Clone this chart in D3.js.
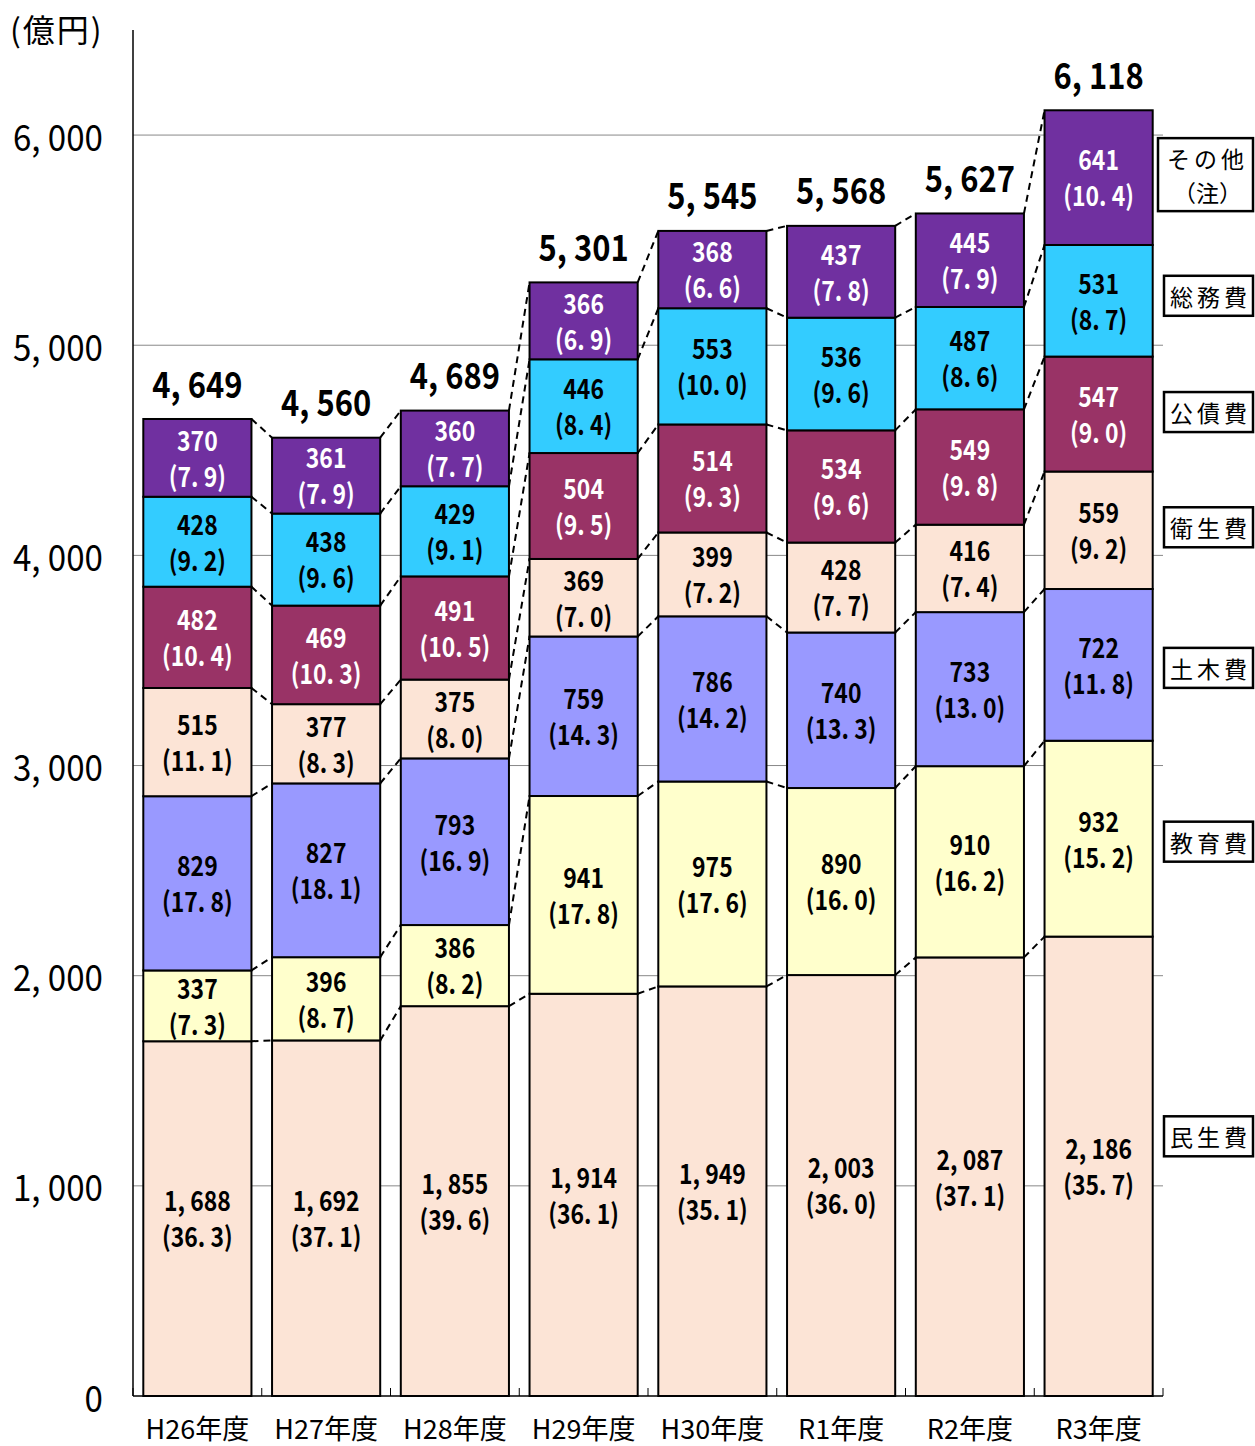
<!DOCTYPE html>
<html><head><meta charset="utf-8">
<script src="https://cdn.jsdelivr.net/npm/d3@7"></script>
<style>
html,body{margin:0;padding:0;background:#fff;}
svg{display:block;}
text{font-family:"Noto Sans CJK JP","Noto Sans",sans-serif;}
</style></head>
<body>
<svg id="chart" width="1255" height="1446"></svg>
<script>
// ---- data ----
const categories = ["H26年度","H27年度","H28年度","H29年度","H30年度","R1年度","R2年度","R3年度"];
const seriesNames = ["民生費","教育費","土木費","衛生費","公債費","総務費","その他"];
const minsei   = [1688,1692,1855,1914,1949,2003,2087,2186];
const kyouiku  = [337,396,386,941,975,890,910,932];
const doboku   = [829,827,793,759,786,740,733,722];
const eisei    = [515,377,375,369,399,428,416,559];
const kousai   = [482,469,491,504,514,534,549,547];
const soumu    = [428,438,429,446,553,536,487,531];
const sonota   = [370,361,360,366,368,437,445,641];
const minseiPct  = [36.3,37.1,39.6,36.1,35.1,36.0,37.1,35.7];
const kyouikuPct = [7.3,8.7,8.2,17.8,17.6,16.0,16.2,15.2];
const dobokuPct  = [17.8,18.1,16.9,14.3,14.2,13.3,13.0,11.8];
const eiseiPct   = [11.1,8.3,8.0,7.0,7.2,7.7,7.4,9.2];
const kousaiPct  = [10.4,10.3,10.5,9.5,9.3,9.6,9.8,9.0];
const soumuPct   = [9.2,9.6,9.1,8.4,10.0,9.6,8.6,8.7];
const sonotaPct  = [7.9,7.9,7.7,6.9,6.6,7.8,7.9,10.4];
const totals = [4649,4560,4689,5301,5545,5568,5627,6118];
const yTicks = [0,1000,2000,3000,4000,5000,6000];
const legendLabels = ["民生費","教育費","土木費","衛生費","公債費","総務費","その他\n（注）"];

const seriesValues = [minsei,kyouiku,doboku,eisei,kousai,soumu,sonota];
const seriesPcts = [minseiPct,kyouikuPct,dobokuPct,eiseiPct,kousaiPct,soumuPct,sonotaPct];

// ---- styles ----
const colors = ["#FCE4D6","#FFFFCC","#9999FF","#FCE4D6","#993366","#33CCFF","#7030A0"];
const textColors = ["#000","#000","#000","#000","#fff","#000","#fff"];

const svg = d3.select("#chart");
const x = d3.scaleBand().domain(categories).range([133,1163]).paddingInner(0.16).paddingOuter(0.08);
const y = d3.scaleLinear().domain([0,6500]).range([1396,30]);

const fmt = v => d3.format(",")(v).replace(/,/g, ", ");
const fmtPct = v => "(" + v.toFixed(1).replace(".", ". ") + ")";

// gridlines
svg.append("g").selectAll("line").data(yTicks.filter(t=>t>0)).join("line")
  .attr("x1",133).attr("x2",1163).attr("y1",d=>y(d)).attr("y2",d=>y(d))
  .attr("stroke","#888").attr("stroke-width",1);

// stacked data
const rows = categories.map((c,i)=>{ const o={cat:c}; seriesNames.forEach((s,k)=>o[s]=seriesValues[k][i]); return o;});
const stack = d3.stack().keys(seriesNames)(rows);

// dashed connectors
const conn = svg.append("g");
for (let i=0;i<categories.length-1;i++){
  stack.forEach(layer=>{
    const a = layer[i][1], b = layer[i+1][1];
    conn.append("line")
      .attr("x1", x(categories[i])+x.bandwidth()).attr("y1", y(a))
      .attr("x2", x(categories[i+1])).attr("y2", y(b))
      .attr("stroke","#000").attr("stroke-width",2).attr("stroke-dasharray","7,5");
  });
}

// bars
const layers = svg.append("g").selectAll("g").data(stack).join("g")
  .attr("fill",(d,k)=>colors[k]);
layers.selectAll("rect").data(d=>d).join("rect")
  .attr("x",(d,i)=>x(categories[i])).attr("width",x.bandwidth())
  .attr("y",d=>y(d[1])).attr("height",d=>y(d[0])-y(d[1]))
  .attr("stroke","#000").attr("stroke-width",2);

// segment labels
stack.forEach((layer,k)=>{
  layer.forEach((d,i)=>{
    const cx = x(categories[i])+x.bandwidth()/2;
    const mid = (y(d[0])+y(d[1]))/2;
    const g = svg.append("g").attr("fill",textColors[k]).attr("font-weight","bold").attr("font-size",27);
    g.append("text").attr("transform",`translate(${cx},${mid-19}) scale(0.85,1)`)
      .attr("text-anchor","middle").attr("dominant-baseline","central").text(fmt(seriesValues[k][i]));
    g.append("text").attr("transform",`translate(${cx},${mid+17}) scale(0.85,1)`)
      .attr("text-anchor","middle").attr("dominant-baseline","central").text(fmtPct(seriesPcts[k][i]));
  });
});

// totals
const topLayer = stack[stack.length-1];
svg.append("g").selectAll("text").data(totals).join("text")
  .attr("transform",(d,i)=>`translate(${x(categories[i])+x.bandwidth()/2},${y(topLayer[i][1])-37}) scale(0.86,1)`)
  .attr("text-anchor","middle").attr("dominant-baseline","central")
  .attr("font-size",36).attr("font-weight","bold").text(d=>fmt(d));

// axes lines
svg.append("line").attr("x1",133).attr("x2",133).attr("y1",30).attr("y2",1396).attr("stroke","#000").attr("stroke-width",1.5);
svg.append("line").attr("x1",133).attr("x2",1163).attr("y1",1396).attr("y2",1396).attr("stroke","#000").attr("stroke-width",1.5);
// category ticks
svg.append("g").selectAll("line").data(d3.range(categories.length+1)).join("line")
  .attr("x1",i=>133+i*x.step()).attr("x2",i=>133+i*x.step()).attr("y1",1388).attr("y2",1396)
  .attr("stroke","#000").attr("stroke-width",1);

// y tick labels
svg.append("g").selectAll("text").data(yTicks).join("text")
  .attr("transform",d=>`translate(103,${y(d)}) scale(0.92,1)`)
  .attr("text-anchor","end").attr("dominant-baseline","central")
  .attr("font-size",36).text(d=>fmt(d));

svg.append("text").attr("x",10).attr("y",28).attr("dominant-baseline","central")
  .attr("font-size",32).attr("letter-spacing",2).text("(億円)");

// x labels
svg.append("g").selectAll("text").data(categories).join("text")
  .attr("x",d=>x(d)+x.bandwidth()/2).attr("y",1427)
  .attr("text-anchor","middle").attr("dominant-baseline","central")
  .attr("font-size",27).text(d=>d);

// legend
const lastIdx = categories.length-1;
const legendShift = [-30,3,3,-3,-2,-5,-3];
seriesNames.forEach((s,k)=>{
  const seg = stack[k][lastIdx];
  const cy = (y(seg[0])+y(seg[1]))/2 + legendShift[k];
  const lines = legendLabels[k].split("\n");
  const h = lines.length>1 ? 73 : 40;
  const w = lines.length>1 ? 95 : 89;
  const g = svg.append("g");
  g.append("rect").attr("x",1253-w).attr("y",cy-h/2).attr("width",w).attr("height",h)
    .attr("fill","#fff").attr("stroke","#000").attr("stroke-width",2.5);
  lines.forEach((ln,j)=>{
    g.append("text").attr("x",1253-w/2+2).attr("y",cy + (j-(lines.length-1)/2)*34)
      .attr("text-anchor","middle").attr("dominant-baseline","central")
      .attr("font-size",23).attr("letter-spacing",j===0?4:0).text(ln);
  });
});
</script>
</body></html>
